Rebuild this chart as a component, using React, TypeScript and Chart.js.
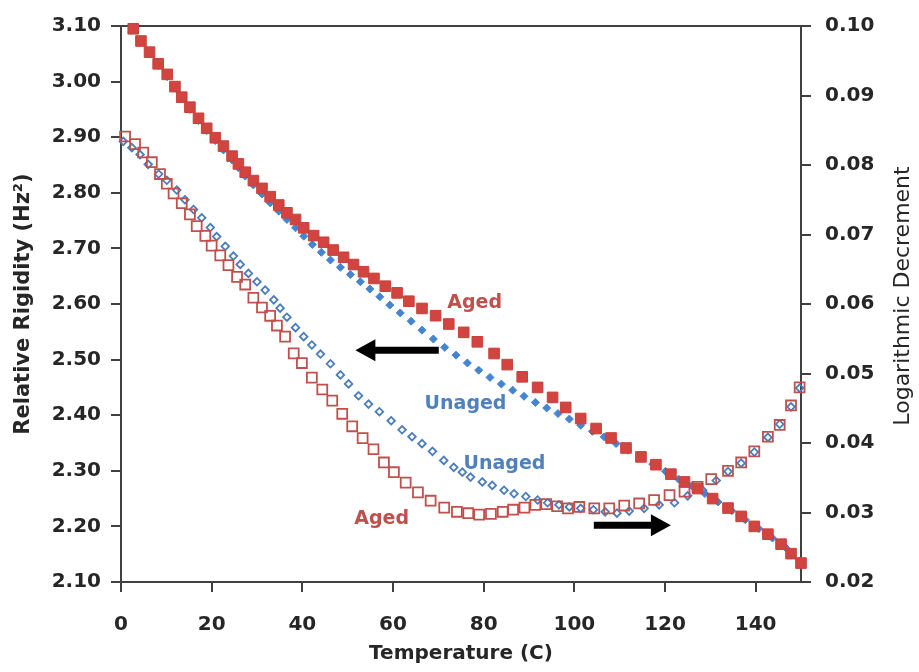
import React, { useEffect, useRef } from 'react';
import { Chart, registerables } from 'chart.js';

Chart.register(...registerables);

// ---------------- data ----------------
const agedRigidityT = [2.7, 4.4, 6.3, 8.2, 10.2, 11.9, 13.4, 15.2, 17.1, 18.9, 20.8, 22.6, 24.5, 25.9, 27.4, 29.2, 31.1, 32.9, 34.8, 36.6, 38.5, 40.3, 42.5, 44.7, 46.8, 49.1, 51.3, 53.5, 55.8, 58.3, 60.9, 63.5, 66.4, 69.4, 72.3, 75.6, 78.6, 82.3, 85.2, 88.5, 91.9, 95.2, 98.1, 101.4, 104.8, 108.1, 111.4, 114.7, 118.0, 121.3, 124.3, 127.2, 130.5, 133.9, 136.8, 139.7, 142.7, 145.6, 147.8, 150.0];
const agedRigidity = [3.095, 3.073, 3.053, 3.032, 3.013, 2.991, 2.972, 2.954, 2.934, 2.916, 2.899, 2.884, 2.866, 2.852, 2.837, 2.822, 2.808, 2.793, 2.778, 2.764, 2.752, 2.737, 2.723, 2.711, 2.697, 2.684, 2.671, 2.658, 2.646, 2.632, 2.620, 2.605, 2.592, 2.579, 2.564, 2.549, 2.532, 2.511, 2.491, 2.469, 2.450, 2.432, 2.414, 2.394, 2.376, 2.359, 2.341, 2.325, 2.311, 2.294, 2.280, 2.268, 2.250, 2.233, 2.218, 2.200, 2.186, 2.168, 2.151, 2.134];

const unagedRigidityT = [2.7, 4.4, 6.3, 8.2, 10.2, 11.9, 13.4, 15.2, 17.1, 18.9, 20.8, 22.6, 24.5, 25.9, 27.4, 29.2, 31.1, 32.9, 34.8, 36.6, 38.5, 40.3, 42.2, 44.2, 46.2, 48.4, 50.6, 52.8, 54.9, 57.1, 59.3, 61.6, 64.0, 66.4, 68.9, 71.4, 73.9, 76.4, 78.9, 81.4, 83.9, 86.4, 88.9, 91.4, 93.9, 96.4, 98.9, 101.4, 104.0, 106.6, 109.2, 111.8, 114.5, 117.3, 120.1, 123.0, 125.9, 128.8, 131.7, 134.7, 137.7, 140.7, 143.7, 146.7, 149.7];
const unagedRigidity = [3.093, 3.071, 3.050, 3.029, 3.009, 2.988, 2.969, 2.950, 2.930, 2.912, 2.894, 2.877, 2.859, 2.845, 2.830, 2.814, 2.798, 2.782, 2.767, 2.752, 2.737, 2.722, 2.707, 2.693, 2.679, 2.666, 2.653, 2.640, 2.627, 2.613, 2.598, 2.584, 2.569, 2.553, 2.537, 2.522, 2.508, 2.494, 2.481, 2.468, 2.456, 2.445, 2.434, 2.423, 2.413, 2.403, 2.393, 2.382, 2.371, 2.361, 2.349, 2.337, 2.324, 2.312, 2.299, 2.285, 2.273, 2.259, 2.244, 2.228, 2.212, 2.196, 2.179, 2.161, 2.138];

const agedDecrementT = [0.9, 3.1, 4.9, 6.8, 8.6, 10.1, 11.6, 13.4, 15.2, 16.7, 18.6, 20.0, 21.9, 23.7, 25.6, 27.4, 29.2, 31.1, 32.9, 34.4, 36.2, 38.1, 39.9, 42.1, 44.4, 46.6, 48.8, 51.0, 53.3, 55.7, 58.0, 60.2, 62.8, 65.5, 68.3, 71.3, 74.1, 76.6, 79.0, 81.6, 84.2, 86.5, 89.0, 91.4, 93.8, 96.2, 98.6, 101.1, 104.4, 107.7, 111.0, 114.3, 117.6, 121.0, 124.3, 127.2, 130.2, 133.9, 136.8, 139.7, 142.7, 145.3, 147.8, 149.7];
const agedDecrement = [0.0841, 0.0830, 0.0818, 0.0804, 0.0787, 0.0773, 0.0759, 0.0745, 0.0729, 0.0712, 0.0698, 0.0684, 0.0670, 0.0656, 0.0639, 0.0628, 0.0609, 0.0595, 0.0583, 0.0569, 0.0553, 0.0529, 0.0515, 0.0494, 0.0477, 0.0461, 0.0442, 0.0424, 0.0407, 0.0391, 0.0372, 0.0358, 0.0343, 0.0329, 0.0317, 0.0307, 0.0301, 0.0299, 0.0297, 0.0298, 0.0301, 0.0304, 0.0307, 0.0311, 0.0312, 0.0309, 0.0306, 0.0308, 0.0306, 0.0306, 0.0310, 0.0313, 0.0318, 0.0325, 0.0330, 0.0337, 0.0348, 0.0360, 0.0372, 0.0388, 0.0409, 0.0426, 0.0454, 0.0480];

const unagedDecrementT = [0.5, 2.4, 4.2, 6.0, 8.3, 10.1, 12.3, 14.1, 16.0, 17.8, 19.7, 21.1, 23.0, 24.8, 26.3, 28.1, 30.0, 31.8, 33.7, 35.1, 36.6, 38.5, 40.3, 42.1, 44.0, 46.2, 48.4, 50.2, 52.4, 54.6, 57.0, 59.6, 62.0, 64.2, 66.4, 68.7, 71.2, 73.4, 75.3, 77.1, 79.7, 81.9, 84.5, 86.7, 89.3, 91.9, 94.1, 96.6, 98.9, 101.4, 104.2, 106.8, 109.4, 112.1, 115.4, 118.7, 122.1, 125.0, 128.3, 131.3, 133.9, 136.8, 139.7, 142.7, 145.3, 147.8, 149.7];
const unagedDecrement = [0.0834, 0.0825, 0.0815, 0.0801, 0.0787, 0.0778, 0.0764, 0.0750, 0.0736, 0.0724, 0.0710, 0.0697, 0.0683, 0.0669, 0.0657, 0.0644, 0.0632, 0.0620, 0.0606, 0.0594, 0.0581, 0.0566, 0.0553, 0.0541, 0.0528, 0.0514, 0.0498, 0.0485, 0.0468, 0.0456, 0.0445, 0.0432, 0.0419, 0.0409, 0.0399, 0.0388, 0.0375, 0.0365, 0.0358, 0.0351, 0.0344, 0.0339, 0.0332, 0.0327, 0.0323, 0.0318, 0.0314, 0.0311, 0.0308, 0.0306, 0.0304, 0.0301, 0.0299, 0.0302, 0.0306, 0.0311, 0.0314, 0.0324, 0.0332, 0.0346, 0.0359, 0.0371, 0.0387, 0.0408, 0.0427, 0.0452, 0.0479];

// tick ranges
const xTicks = [0, 20, 40, 60, 80, 100, 120, 140];
const xMin = 0, xMax = 150;
const yLeftMin = 2.1, yLeftMax = 3.1, yLeftStep = 0.1;
const yRightMin = 0.02, yRightMax = 0.10, yRightStep = 0.01;

// annotations in data coordinates (x: temperature, y: left axis)
const labelTexts = ['Aged', 'Unaged', 'Unaged', 'Aged'];
const labelX = [78.0, 76.0, 84.6, 57.5];
const labelY = [2.602, 2.420, 2.313, 2.214];
const labelKinds = ['aged', 'unaged', 'unaged', 'aged'];
// arrows: tail temperature, tip temperature, left-axis value
const arrowTail = [70.1, 104.3];
const arrowTip = [51.7, 121.3];
const arrowY = [2.517, 2.202];

const RED = '#C0504D';
const RED_FILL = '#D2443F';
const BLUE = '#4F81BD';
const BLUE_FILL = '#4485D0';
const AXIS = '#404040';
const TEXT = '#262626';
const FONT = "'DejaVu Sans', sans-serif";

const zip = (xs: number[], ys: number[]) => xs.map((x, i) => ({ x, y: ys[i] }));

const overlay = {
  id: 'overlay',
  beforeDatasetsDraw(chart: any) {
    const { ctx, chartArea } = chart;
    ctx.save();
    ctx.strokeStyle = AXIS;
    ctx.lineWidth = 2;
    ctx.beginPath();
    ctx.moveTo(chartArea.left, chartArea.top);
    ctx.lineTo(chartArea.right, chartArea.top);
    ctx.stroke();
    ctx.restore();
  },
  afterDatasetsDraw(chart: any) {
    const { ctx, scales } = chart;
    const sx = scales.x, sy = scales.y;
    ctx.save();
    ctx.font = `bold 19px ${FONT}`;
    ctx.textAlign = 'center';
    ctx.textBaseline = 'middle';
    labelTexts.forEach((t, i) => {
      ctx.fillStyle = labelKinds[i] === 'aged' ? RED : BLUE;
      ctx.fillText(t, sx.getPixelForValue(labelX[i]), sy.getPixelForValue(labelY[i]));
    });
    ctx.fillStyle = '#000';
    arrowTail.forEach((tail, i) => {
      const x0 = sx.getPixelForValue(tail);
      const x1 = sx.getPixelForValue(arrowTip[i]);
      const y = sy.getPixelForValue(arrowY[i]);
      const dir = x1 > x0 ? 1 : -1;
      const head = 20, half = 11, shaft = 3.5;
      const xb = x1 - dir * head;
      ctx.beginPath();
      ctx.moveTo(x0, y - shaft);
      ctx.lineTo(xb, y - shaft);
      ctx.lineTo(xb, y - half);
      ctx.lineTo(x1, y);
      ctx.lineTo(xb, y + half);
      ctx.lineTo(xb, y + shaft);
      ctx.lineTo(x0, y + shaft);
      ctx.closePath();
      ctx.fill();
    });
    ctx.restore();
  },
  afterDraw(chart: any) {
    const { ctx } = chart;
    ctx.save();
    ctx.fillStyle = TEXT;
    ctx.textAlign = 'center';
    ctx.textBaseline = 'middle';
    ctx.font = `bold 21px ${FONT}`;
    ctx.translate(24, 304);
    ctx.rotate(-Math.PI / 2);
    ctx.fillText('Relative Rigidity (Hz²)', 0, 0);
    ctx.restore();
    ctx.save();
    ctx.fillStyle = TEXT;
    ctx.textAlign = 'center';
    ctx.textBaseline = 'middle';
    ctx.font = `22px ${FONT}`;
    ctx.translate(903, 296);
    ctx.rotate(-Math.PI / 2);
    ctx.fillText('Logarithmic Decrement', 0, 0);
    ctx.restore();
  },
};

export default function App() {
  const ref = useRef<HTMLCanvasElement>(null);
  useEffect(() => {
    const gridOpts = {
      drawOnChartArea: false,
      drawTicks: true,
      tickLength: 10,
      color: AXIS,
      lineWidth: 2,
    };
    const border = { display: true, color: AXIS, width: 2 };
    const tickFont = { family: FONT, size: 20, weight: 'bold' as const };
    const chart = new Chart(ref.current!, {
      type: 'scatter',
      data: {
        datasets: [
          {
            label: 'Aged rigidity',
            data: zip(agedRigidityT, agedRigidity),
            yAxisID: 'y',
            pointStyle: 'rect',
            pointRadius: 7.5,
            backgroundColor: RED_FILL,
            borderColor: '#C8413D',
            borderWidth: 1,
            order: 0,
            clip: false,
          },
          {
            label: 'Aged decrement',
            data: zip(agedDecrementT, agedDecrement),
            yAxisID: 'y1',
            pointStyle: 'rect',
            pointRadius: 7,
            backgroundColor: 'rgba(255,255,255,0)',
            borderColor: RED,
            borderWidth: 1.8,
            order: 1,
            clip: false,
          },
          {
            label: 'Unaged rigidity',
            data: zip(unagedRigidityT, unagedRigidity),
            yAxisID: 'y',
            pointStyle: 'rectRot',
            pointRadius: 4,
            backgroundColor: BLUE_FILL,
            borderColor: BLUE_FILL,
            borderWidth: 1,
            order: 2,
            clip: false,
          },
          {
            label: 'Unaged decrement',
            data: zip(unagedDecrementT, unagedDecrement),
            yAxisID: 'y1',
            pointStyle: 'rectRot',
            pointRadius: 3.8,
            backgroundColor: 'rgba(255,255,255,0)',
            borderColor: '#4A7DBE',
            borderWidth: 1.8,
            order: 3,
            clip: false,
          },
        ],
      },
      options: {
        animation: false,
        responsive: true,
        maintainAspectRatio: false,
        layout: { padding: { top: 14, left: 0, right: 0, bottom: 0 } },
        plugins: {
          legend: { display: false },
          tooltip: { enabled: false },
        },
        scales: {
          x: {
            type: 'linear',
            min: xMin,
            max: xMax,
            afterBuildTicks: (s: any) => {
              s.ticks = xTicks.map((v) => ({ value: v }));
            },
            afterFit: (s: any) => {
              s.height = 90;
            },
            ticks: { font: tickFont, color: TEXT, padding: 21, maxRotation: 0 },
            grid: gridOpts,
            border,
            title: {
              display: true,
              text: 'Temperature (C)',
              font: { family: FONT, size: 20, weight: 'bold' },
              color: TEXT,
              padding: { top: 0, bottom: 6 },
            },
          },
          y: {
            type: 'linear',
            position: 'left',
            min: yLeftMin,
            max: yLeftMax,
            afterFit: (s: any) => {
              s.width = 121;
            },
            ticks: {
              stepSize: yLeftStep,
              font: tickFont,
              color: TEXT,
              padding: 10,
              callback: (v: any) => Number(v).toFixed(2),
            },
            grid: gridOpts,
            border,
          },
          y1: {
            type: 'linear',
            position: 'right',
            min: yRightMin,
            max: yRightMax,
            afterFit: (s: any) => {
              s.width = 118;
            },
            ticks: {
              stepSize: yRightStep,
              font: tickFont,
              color: TEXT,
              padding: 14,
              callback: (v: any) => Number(v).toFixed(2),
            },
            grid: gridOpts,
            border,
          },
        },
      },
      plugins: [overlay],
    });
    return () => chart.destroy();
  }, []);
  return (
    <div style={{ position: 'fixed', left: 0, top: 0, width: 919, height: 672, background: '#fff' }}>
      <canvas ref={ref} />
    </div>
  );
}
